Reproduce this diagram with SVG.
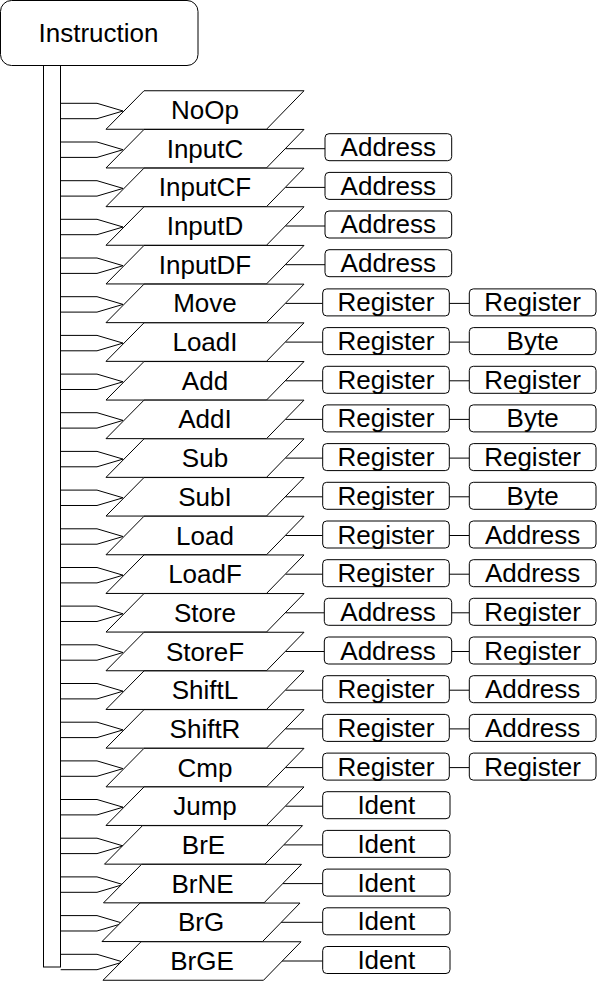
<svg xmlns="http://www.w3.org/2000/svg" xmlns:xlink="http://www.w3.org/1999/xlink" width="597" height="981" viewBox="0 0 597 981">
<style>
.s{fill:#fff;stroke:#000;stroke-width:1}
.c{fill:none;stroke:#000;stroke-width:1}
text{font-family:"Liberation Sans",Arial,sans-serif;font-size:26px;fill:#000;text-anchor:middle}
</style>
<defs>
<path id="arr" class="c" d="M60.7,-6.7H97L123,1L97,8.7H60.7"/>
<polygon id="para" class="s" points="144,-19.25 304,-19.25 266.5,19.25 106,19.25"/>
</defs>
<rect width="597" height="981" fill="#fff"/>
<g id="instruction"><rect class="s" x="0.5" y="0.5" width="197.5" height="65" rx="11"/><text x="98.5" y="42">Instruction</text></g>
<g id="bar"><rect class="s" x="43.5" y="65.5" width="17" height="901.5"/></g>
<g id="connectors">
<use xlink:href="#arr" y="110"/><use xlink:href="#arr" y="148.7"/><use xlink:href="#arr" y="187.4"/><use xlink:href="#arr" y="226"/><use xlink:href="#arr" y="264.7"/><use xlink:href="#arr" y="303.4"/><use xlink:href="#arr" y="342.1"/><use xlink:href="#arr" y="380.8"/><use xlink:href="#arr" y="419.4"/><use xlink:href="#arr" y="458.1"/><use xlink:href="#arr" y="496.8"/><use xlink:href="#arr" y="535.5"/><use xlink:href="#arr" y="574.2"/><use xlink:href="#arr" y="612.8"/><use xlink:href="#arr" y="651.5"/><use xlink:href="#arr" y="690.2"/><use xlink:href="#arr" y="728.9"/><use xlink:href="#arr" y="767.6"/><use xlink:href="#arr" y="806.2"/><use xlink:href="#arr" y="844.9"/><use xlink:href="#arr" y="883.6"/><use xlink:href="#arr" y="922.3"/><use xlink:href="#arr" y="961"/>
<path class="c" d="M285.5,148.7H325M285.5,187.4H325M285.5,226H325M285.5,264.7H325"/>
<path class="c" d="M285.5,303.4H322.7M449.3,303.4H469M285.5,342.1H322.7M449.3,342.1H469M285.5,380.8H322.7M449.3,380.8H469M285.5,419.4H322.7M449.3,419.4H469M285.5,458.1H322.7M449.3,458.1H469M285.5,496.8H322.7M449.3,496.8H469M285.5,535.5H322.7M449.3,535.5H469M285.5,574.2H322.7M449.3,574.2H469"/>
<path class="c" d="M285.5,612.8H324.3M451.7,612.8H469M285.5,651.5H324.3M451.7,651.5H469"/>
<path class="c" d="M285.5,690.2H322.7M449.3,690.2H469M285.5,728.9H322.7M449.3,728.9H469M285.5,767.6H322.7M449.3,767.6H469"/>
<path class="c" d="M285.5,806.2H322.7M284,844.9H322.7M283,883.6H322.7M281,922.3H322.7M282,961H322.7"/>
</g>
<g id="n-noop"><use xlink:href="#para" y="110"/><text x="205" y="119">NoOp</text></g>
<g id="n-inputc"><use xlink:href="#para" y="148.7"/><text x="205" y="157.7">InputC</text></g>
<g id="n-inputcf"><use xlink:href="#para" y="187.4"/><text x="205" y="196.4">InputCF</text></g>
<g id="n-inputd"><use xlink:href="#para" y="226"/><text x="205" y="235">InputD</text></g>
<g id="n-inputdf"><use xlink:href="#para" y="264.7"/><text x="205" y="273.7">InputDF</text></g>
<g id="n-move"><use xlink:href="#para" y="303.4"/><text x="205" y="312.4">Move</text></g>
<g id="n-loadi"><use xlink:href="#para" y="342.1"/><text x="205" y="351.1">LoadI</text></g>
<g id="n-add"><use xlink:href="#para" y="380.8"/><text x="205" y="389.8">Add</text></g>
<g id="n-addi"><use xlink:href="#para" y="419.4"/><text x="205" y="428.4">AddI</text></g>
<g id="n-sub"><use xlink:href="#para" y="458.1"/><text x="205" y="467.1">Sub</text></g>
<g id="n-subi"><use xlink:href="#para" y="496.8"/><text x="205" y="505.8">SubI</text></g>
<g id="n-load"><use xlink:href="#para" y="535.5"/><text x="205" y="544.5">Load</text></g>
<g id="n-loadf"><use xlink:href="#para" y="574.2"/><text x="205" y="583.2">LoadF</text></g>
<g id="n-store"><use xlink:href="#para" y="612.8"/><text x="205" y="621.8">Store</text></g>
<g id="n-storef"><use xlink:href="#para" y="651.5"/><text x="205" y="660.5">StoreF</text></g>
<g id="n-shiftl"><use xlink:href="#para" y="690.2"/><text x="205" y="699.2">ShiftL</text></g>
<g id="n-shiftr"><use xlink:href="#para" y="728.9"/><text x="205" y="737.9">ShiftR</text></g>
<g id="n-cmp"><use xlink:href="#para" y="767.6"/><text x="205" y="776.6">Cmp</text></g>
<g id="n-jump"><use xlink:href="#para" y="806.2"/><text x="205" y="815.2">Jump</text></g>
<g id="n-bre"><use xlink:href="#para" x="-1.5" y="844.9"/><text x="203.5" y="853.9">BrE</text></g>
<g id="n-brne"><use xlink:href="#para" x="-2.5" y="883.6"/><text x="202.5" y="892.6">BrNE</text></g>
<g id="n-brg"><use xlink:href="#para" x="-4" y="922.3"/><text x="201" y="931.3">BrG</text></g>
<g id="n-brge"><use xlink:href="#para" x="-3" y="961"/><text x="202" y="970">BrGE</text></g>
<g id="b-inputc-1"><rect class="s" x="325" y="133.7" width="126.7" height="27" rx="4"/><text x="388.3" y="156">Address</text></g>
<g id="b-inputcf-1"><rect class="s" x="325" y="172.4" width="126.7" height="27" rx="4"/><text x="388.3" y="194.7">Address</text></g>
<g id="b-inputd-1"><rect class="s" x="325" y="211" width="126.7" height="27" rx="4"/><text x="388.3" y="233.3">Address</text></g>
<g id="b-inputdf-1"><rect class="s" x="325" y="249.7" width="126.7" height="27" rx="4"/><text x="388.3" y="272">Address</text></g>
<g id="b-move-1"><rect class="s" x="322.7" y="288.9" width="126.6" height="27" rx="4"/><text x="386" y="311.4">Register</text></g>
<g id="b-move-2"><rect class="s" x="469.3" y="288.9" width="126.7" height="27" rx="4"/><text x="532.6" y="311.4">Register</text></g>
<g id="b-loadi-1"><rect class="s" x="322.7" y="327.6" width="126.6" height="27" rx="4"/><text x="386" y="350.1">Register</text></g>
<g id="b-loadi-2"><rect class="s" x="469.3" y="327.6" width="126.7" height="27" rx="4"/><text x="532.6" y="350.1">Byte</text></g>
<g id="b-add-1"><rect class="s" x="322.7" y="366.3" width="126.6" height="27" rx="4"/><text x="386" y="388.8">Register</text></g>
<g id="b-add-2"><rect class="s" x="469.3" y="366.3" width="126.7" height="27" rx="4"/><text x="532.6" y="388.8">Register</text></g>
<g id="b-addi-1"><rect class="s" x="322.7" y="404.9" width="126.6" height="27" rx="4"/><text x="386" y="427.4">Register</text></g>
<g id="b-addi-2"><rect class="s" x="469.3" y="404.9" width="126.7" height="27" rx="4"/><text x="532.6" y="427.4">Byte</text></g>
<g id="b-sub-1"><rect class="s" x="322.7" y="443.6" width="126.6" height="27" rx="4"/><text x="386" y="466.1">Register</text></g>
<g id="b-sub-2"><rect class="s" x="469.3" y="443.6" width="126.7" height="27" rx="4"/><text x="532.6" y="466.1">Register</text></g>
<g id="b-subi-1"><rect class="s" x="322.7" y="482.3" width="126.6" height="27" rx="4"/><text x="386" y="504.8">Register</text></g>
<g id="b-subi-2"><rect class="s" x="469.3" y="482.3" width="126.7" height="27" rx="4"/><text x="532.6" y="504.8">Byte</text></g>
<g id="b-load-1"><rect class="s" x="322.7" y="521" width="126.6" height="27" rx="4"/><text x="386" y="543.5">Register</text></g>
<g id="b-load-2"><rect class="s" x="469.3" y="521" width="126.7" height="27" rx="4"/><text x="532.6" y="543.5">Address</text></g>
<g id="b-loadf-1"><rect class="s" x="322.7" y="559.7" width="126.6" height="27" rx="4"/><text x="386" y="582.2">Register</text></g>
<g id="b-loadf-2"><rect class="s" x="469.3" y="559.7" width="126.7" height="27" rx="4"/><text x="532.6" y="582.2">Address</text></g>
<g id="b-store-1"><rect class="s" x="324.3" y="598.3" width="127.4" height="27" rx="4"/><text x="388" y="620.8">Address</text></g>
<g id="b-store-2"><rect class="s" x="469.3" y="598.3" width="126.7" height="27" rx="4"/><text x="532.6" y="620.8">Register</text></g>
<g id="b-storef-1"><rect class="s" x="324.3" y="637" width="127.4" height="27" rx="4"/><text x="388" y="659.5">Address</text></g>
<g id="b-storef-2"><rect class="s" x="469.3" y="637" width="126.7" height="27" rx="4"/><text x="532.6" y="659.5">Register</text></g>
<g id="b-shiftl-1"><rect class="s" x="322.7" y="675.7" width="126.6" height="27" rx="4"/><text x="386" y="698.2">Register</text></g>
<g id="b-shiftl-2"><rect class="s" x="469.3" y="675.7" width="126.7" height="27" rx="4"/><text x="532.6" y="698.2">Address</text></g>
<g id="b-shiftr-1"><rect class="s" x="322.7" y="714.4" width="126.6" height="27" rx="4"/><text x="386" y="736.9">Register</text></g>
<g id="b-shiftr-2"><rect class="s" x="469.3" y="714.4" width="126.7" height="27" rx="4"/><text x="532.6" y="736.9">Address</text></g>
<g id="b-cmp-1"><rect class="s" x="322.7" y="753.1" width="126.6" height="27" rx="4"/><text x="386" y="775.6">Register</text></g>
<g id="b-cmp-2"><rect class="s" x="469.3" y="753.1" width="126.7" height="27" rx="4"/><text x="532.6" y="775.6">Register</text></g>
<g id="b-jump-1"><rect class="s" x="322.7" y="791.7" width="127.3" height="27" rx="4"/><text x="386.3" y="814.2">Ident</text></g>
<g id="b-bre-1"><rect class="s" x="322.7" y="830.4" width="127.3" height="27" rx="4"/><text x="386.3" y="852.9">Ident</text></g>
<g id="b-brne-1"><rect class="s" x="322.7" y="869.1" width="127.3" height="27" rx="4"/><text x="386.3" y="891.6">Ident</text></g>
<g id="b-brg-1"><rect class="s" x="322.7" y="907.8" width="127.3" height="27" rx="4"/><text x="386.3" y="930.3">Ident</text></g>
<g id="b-brge-1"><rect class="s" x="322.7" y="946.5" width="127.3" height="27" rx="4"/><text x="386.3" y="969">Ident</text></g>
</svg>
